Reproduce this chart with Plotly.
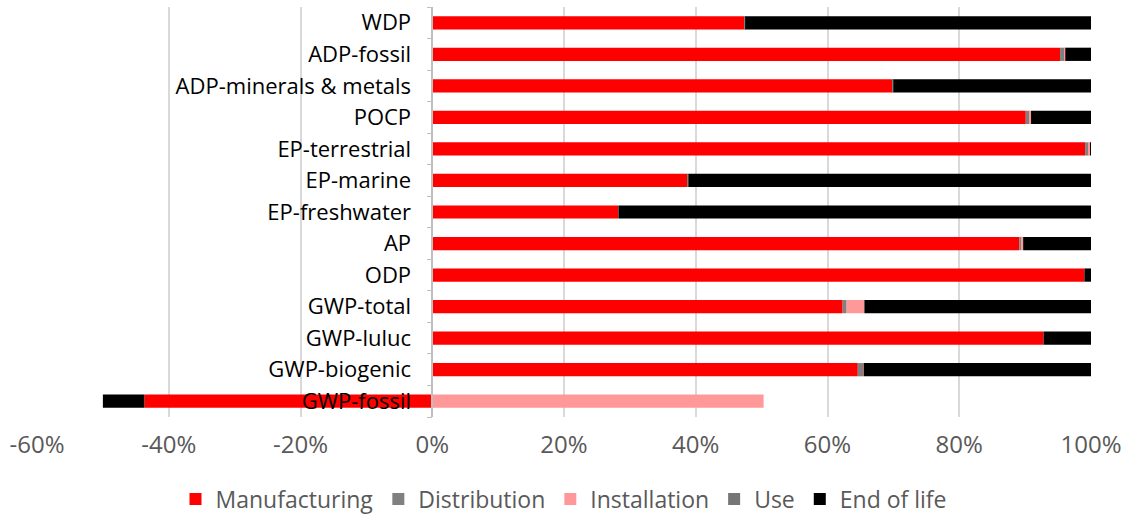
import plotly.graph_objects as go

categories = ["WDP", "ADP-fossil", "ADP-minerals & metals", "POCP", "EP-terrestrial",
              "EP-marine", "EP-freshwater", "AP", "ODP", "GWP-total", "GWP-luluc",
              "GWP-biogenic", "GWP-fossil"]
manufacturing = [47.4, 95.3, 69.9, 90.1, 99.1, 38.8, 28.2, 89.1, 99.0, 62.3, 92.8, 64.6, -43.7]
distribution = [0.1, 0.7, 0.1, 0.6, 0.5, 0.1, 0.1, 0.4, 0.0, 0.6, 0.0, 0.8, 0.0]
installation = [0.0, 0.1, 0.0, 0.2, 0.3, 0.0, 0.0, 0.2, 0.0, 2.7, 0.0, 0.1, 50.3]
use = [0.0] * 13
end_of_life = [52.5, 3.9, 30.0, 9.1, 0.1, 61.1, 71.7, 10.3, 1.0, 34.4, 7.2, 34.5, -6.3]

x_ticks = [-60, -40, -20, 0, 20, 40, 60, 80, 100]
x_tick_labels = ["-60%", "-40%", "-20%", "0%", "20%", "40%", "60%", "80%", "100%"]

series = [
    ("Manufacturing", manufacturing, "#FF0000"),
    ("Distribution", distribution, "#808080"),
    ("Installation", installation, "#FF9999"),
    ("Use", use, "#767676"),
    ("End of life", end_of_life, "#000000"),
]

FONT = "Open Sans"
fig = go.Figure()
for name, vals, col in series:
    fig.add_trace(go.Bar(
        y=categories, x=vals, name=name, orientation="h",
        marker=dict(color=col, line=dict(width=0)), width=0.42,
    ))

xmin, xmax = -60, 100
fig.update_layout(
    width=1125, height=517,
    barmode="relative",
    plot_bgcolor="white", paper_bgcolor="white",
    margin=dict(l=37, r=34, t=7, b=100, autoexpand=False),
    font=dict(family=FONT, size=20, color="#595959"),
    legend=dict(orientation="h", x=0.5, xanchor="center", y=-0.2, yanchor="middle",
                font=dict(size=23, color="#595959"), traceorder="normal",
                itemwidth=30, tracegroupgap=0),
    showlegend=True,
)
fig.update_xaxes(
    range=[xmin, xmax], tickvals=x_ticks, ticktext=x_tick_labels,
    showgrid=True, gridcolor="#D9D9D9", gridwidth=1.5,
    zeroline=False, showline=False, ticks="",
    ticklabelstandoff=11, automargin=False,
    tickfont=dict(size=24, color="#595959"),
)
fig.update_yaxes(
    categoryorder="array", categoryarray=categories[::-1],
    anchor="free", position=(0 - xmin) / (xmax - xmin),
    showline=True, linecolor="#BFBFBF", linewidth=1.5,
    ticks="outside", tickson="boundaries", ticklen=5, tickcolor="#BFBFBF",
    showgrid=False, zeroline=False, automargin=False,
    ticklabelstandoff=16,
    tickfont=dict(size=22, color="#000000"),
)
fig.write_html("out.html", config={"displayModeBar": False},
               post_script="document.body.style.margin='0';document.body.style.overflow='hidden';")
